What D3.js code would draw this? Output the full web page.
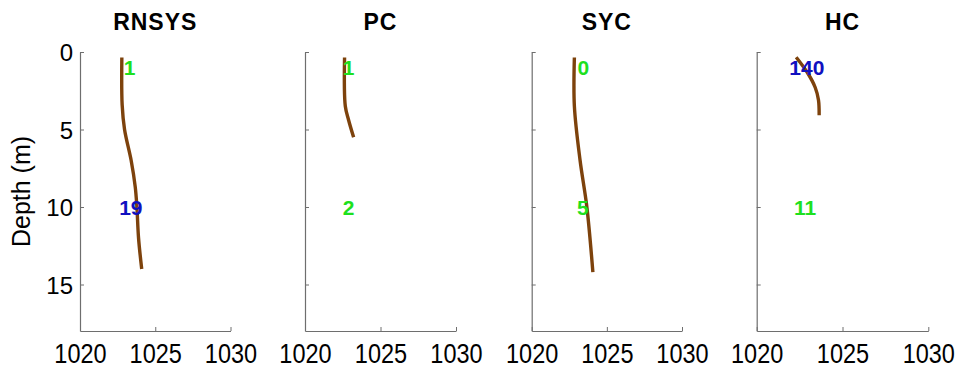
<!DOCTYPE html>
<html>
<head>
<meta charset="utf-8">
<script src="https://cdn.jsdelivr.net/npm/d3@7"></script>
<style>
  body { margin: 0; background: #fff; }
  svg { display: block; }
  text { font-family: "Liberation Sans", Arial, sans-serif; }
</style>
</head>
<body>
<svg id="chart" width="959" height="368"></svg>
<script>
// Sites shown left to right
const sites = ["RNSYS", "PC", "SYC", "HC"];

// Axis ticks
const densityTicks = [1020, 1025, 1030];
const depthTicks = [0, 5, 10, 15];
const densityDomain = [1020, 1030];
const depthDomain = [0, 18];

// Density profiles (kg/m^3) against depth (m)
const depthRNSYS = [0.35, 3.4, 5, 7, 8.7, 10, 12, 14];
const densRNSYS  = [1022.78, 1022.8, 1022.96, 1023.4, 1023.67, 1023.78, 1023.89, 1024.1];

const depthPC = [0.35, 3.5, 4.4, 5.5];
const densPC  = [1022.62, 1022.67, 1022.89, 1023.22];

const depthSYC = [0.35, 3.5, 7.0, 10, 14.2];
const densSYC  = [1022.84, 1022.84, 1023.22, 1023.67, 1024.07];

const depthHC = [0.34, 1.34, 2.29, 3.1, 4.08];
const densHC  = [1022.3, 1022.96, 1023.41, 1023.6, 1023.64];

// Count annotations: upper one at 1 m, lower one at 10 m
const upperCounts = ["1", "1", "0", "140"];
const upperColors = ["#1ee01e", "#1ee01e", "#1ee01e", "#1010c0"];
const upperDens   = [1023.29, 1022.89, 1023.44, 1022.92];
const upperDepth  = 1;

const lowerCounts = ["19", "2", "5", "11"];
const lowerColors = ["#1010c0", "#1ee01e", "#1ee01e", "#1ee01e"];
const lowerDens   = [1023.38, 1022.89, 1023.4, 1022.82];
const lowerDepth  = 10;

const profiles = [
  { depth: depthRNSYS, dens: densRNSYS },
  { depth: depthPC, dens: densPC },
  { depth: depthSYC, dens: densSYC },
  { depth: depthHC, dens: densHC }
];

// Layout of the four axes boxes
const panelLeft  = [80, 305, 531.7, 756.7];
const panelRight = [230.5, 456, 682, 928.3];
const plotTop = 52, plotBottom = 331;

const axisColor = "#6e6e6e";
const lineColor = "#7d420c";

const svg = d3.select("#chart");

const y = d3.scaleLinear().domain(depthDomain).range([plotTop, plotBottom]);

sites.forEach((site, i) => {
  const x = d3.scaleLinear().domain(densityDomain).range([panelLeft[i], panelRight[i]]);
  const g = svg.append("g");

  // bottom axis with inward ticks
  const xAxis = d3.axisBottom(x).tickValues(densityTicks).tickSizeInner(-4).tickSizeOuter(0).tickPadding(9).tickFormat(d3.format("d"));
  const gx = g.append("g").attr("transform", `translate(0,${plotBottom})`).call(xAxis);
  gx.select(".domain").attr("stroke", axisColor).attr("stroke-width", 1.2);
  gx.selectAll(".tick line").attr("stroke", axisColor);
  gx.selectAll(".tick text")
    .attr("fill", "#000")
    .attr("font-size", 28)
    .attr("y", 0)
    .attr("dy", null)
    .attr("dominant-baseline", "central")
    .attr("transform", "translate(0,22) scale(0.84,1)");

  // left axis with inward ticks
  const yAxis = d3.axisLeft(y).tickValues(depthTicks).tickSizeInner(-4).tickSizeOuter(0).tickPadding(7);
  const gy = g.append("g").attr("transform", `translate(${panelLeft[i]},0)`).call(yAxis);
  gy.select(".domain").attr("stroke", axisColor).attr("stroke-width", 1.2);
  gy.selectAll(".tick line").attr("stroke", axisColor);
  gy.selectAll(".tick text")
    .attr("fill", "#000")
    .attr("font-size", 24)
    .attr("x", -7)
    .attr("dy", "0.36em");
  if (i > 0) gy.selectAll(".tick text").remove();

  // title
  g.append("text")
    .attr("x", (panelLeft[i] + panelRight[i]) / 2)
    .attr("y", 30)
    .attr("text-anchor", "middle")
    .attr("font-size", 23)
    .attr("font-weight", "bold")
    .attr("letter-spacing", 1)
    .text(site);

  // profile line
  const p = profiles[i];
  const pts = p.depth.map((d, k) => [p.dens[k], d]);
  g.append("path")
    .datum(pts)
    .attr("fill", "none")
    .attr("stroke", lineColor)
    .attr("stroke-width", 3.4)
    .attr("d", d3.line().x(d => x(d[0])).y(d => y(d[1])).curve(d3.curveCatmullRom.alpha(0.5)));

  // count annotations
  g.append("text")
    .attr("x", x(upperDens[i]))
    .attr("y", y(upperDepth))
    .attr("text-anchor", "middle")
    .attr("dominant-baseline", "central")
    .attr("font-size", 21)
    .attr("font-weight", "bold")
    .attr("fill", upperColors[i])
    .text(upperCounts[i]);

  g.append("text")
    .attr("x", x(lowerDens[i]))
    .attr("y", y(lowerDepth))
    .attr("text-anchor", "middle")
    .attr("dominant-baseline", "central")
    .attr("font-size", 21)
    .attr("font-weight", "bold")
    .attr("fill", lowerColors[i])
    .text(lowerCounts[i]);
});

// y-axis label
svg.append("text")
  .attr("transform", `translate(30,${(plotTop + plotBottom) / 2}) rotate(-90)`)
  .attr("text-anchor", "middle")
  .attr("font-size", 25)
  .text("Depth (m)");
</script>
</body>
</html>
